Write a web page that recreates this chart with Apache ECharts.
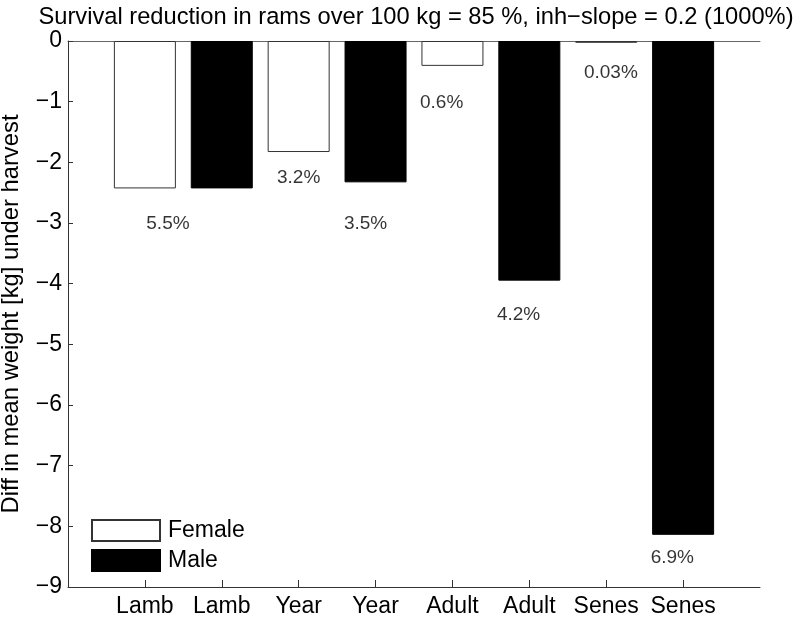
<!DOCTYPE html>
<html>
<head>
<meta charset="utf-8">
<script src="https://cdn.jsdelivr.net/npm/echarts@6/dist/echarts.min.js"></script>
<style>html,body{margin:0;padding:0;background:#fff}#c{width:799px;height:620px}</style>
</head>
<body>
<div id="c"></div>
<script>
var categories = ['Lamb', 'Lamb', 'Year', 'Year', 'Adult', 'Adult', 'Senes', 'Senes'];
var femaleValues = [-2.43, -1.83, -0.41, -0.03];
var maleValues = [-2.43, -2.33, -3.95, -8.14];
var labelTexts = ['5.5%', '3.2%', '3.5%', '0.6%', '4.2%', '0.03%', '6.9%'];
var labelX = [1.3, 3.0, 3.87, 4.86, 5.86, 7.06, 7.86];
var labelY = [-3.02, -2.26, -3.02, -1.02, -4.52, -0.53, -8.52];
var yTicks = [-9, -8, -7, -6, -5, -4, -3, -2, -1, 0];
var titleText = 'Survival reduction in rams over 100 kg = 85 %, inh\u2212slope = 0.2 (1000%)';
var yName = 'Diff in mean weight [kg] under harvest';

var FONT = '"Liberation Sans", Arial, Helvetica, sans-serif';
var femaleData = femaleValues.map(function (v, i) { return [2 * i + 1, v]; });
var maleData = maleValues.map(function (v, i) { return [2 * i + 2, v]; });
var labelData = labelTexts.map(function (t, i) { return [labelX[i], labelY[i], t]; });
var tickPos = categories.map(function (c, i) { return i + 1; });

var chart = echarts.init(document.getElementById('c'), null, {renderer: 'canvas'});
chart.setOption({
  animation: false,
  backgroundColor: '#fff',
  textStyle: {fontFamily: FONT},
  title: {
    text: titleText, left: 411, textAlign: 'center', top: 0,
    textStyle: {fontFamily: FONT, fontSize: 23.7, fontWeight: 'normal', color: '#000'}
  },
  legend: {
    orient: 'vertical', left: 86, top: 514, itemWidth: 68, itemHeight: 21, itemGap: 7,
    icon: 'rect',
    textStyle: {fontFamily: FONT, fontSize: 23, color: '#000', padding: [0, 0, 0, 3]},
    data: ['Female', 'Male']
  },
  grid: {left: 68, right: 39, top: 41, bottom: 33, containLabel: false, outerBoundsMode: 'none'},
  xAxis: [{
    type: 'value', min: 0, max: 9, interval: 1,
    axisLine: {show: true, onZero: false, lineStyle: {color: '#333', width: 1}},
    axisTick: {show: true, inside: true, length: 7, customValues: tickPos, lineStyle: {color: '#333'}},
    axisLabel: {
      customValues: tickPos, margin: 8, fontFamily: FONT, fontSize: 23, color: '#000',
      formatter: function (v) { return categories[Math.round(v) - 1] || ''; }
    },
    splitLine: {show: false}
  }, {
    type: 'value', min: 0, max: 9, position: 'top',
    axisLine: {show: true, onZero: false, lineStyle: {color: '#666', width: 1}},
    axisTick: {show: false}, axisLabel: {show: false}, splitLine: {show: false}
  }],
  yAxis: {
    type: 'value', min: -9, max: 0, interval: 1,
    name: yName, nameLocation: 'middle', nameGap: 45,
    nameTextStyle: {fontFamily: FONT, fontSize: 23.8, color: '#000'},
    axisLine: {show: true, lineStyle: {color: '#333', width: 1}},
    axisTick: {show: true, inside: true, length: 5, lineStyle: {color: '#333'}},
    axisLabel: {
      margin: 6, fontFamily: FONT, fontSize: 23, color: '#000',
      formatter: function (v) { return yTicks.indexOf(v) >= 0 ? String(v).replace('-', '\u2212') : ''; }
    },
    splitLine: {show: false}
  },
  series: [{
    name: 'Female', type: 'bar', data: femaleData, barWidth: 62, barGap: '-100%',
    itemStyle: {color: '#fff', borderColor: '#333', borderWidth: 1}
  }, {
    name: 'Male', type: 'bar', data: maleData, barWidth: 62, barGap: '-100%',
    itemStyle: {color: '#000', borderColor: '#000', borderWidth: 1}
  }, {
    name: 'labels', type: 'scatter', data: labelData, symbolSize: 0, silent: true,
    label: {
      show: true, position: 'inside', fontFamily: FONT, fontSize: 19, color: '#000',
      formatter: function (p) { return p.data[2]; }
    }
  }]
});
</script>
</body>
</html>
